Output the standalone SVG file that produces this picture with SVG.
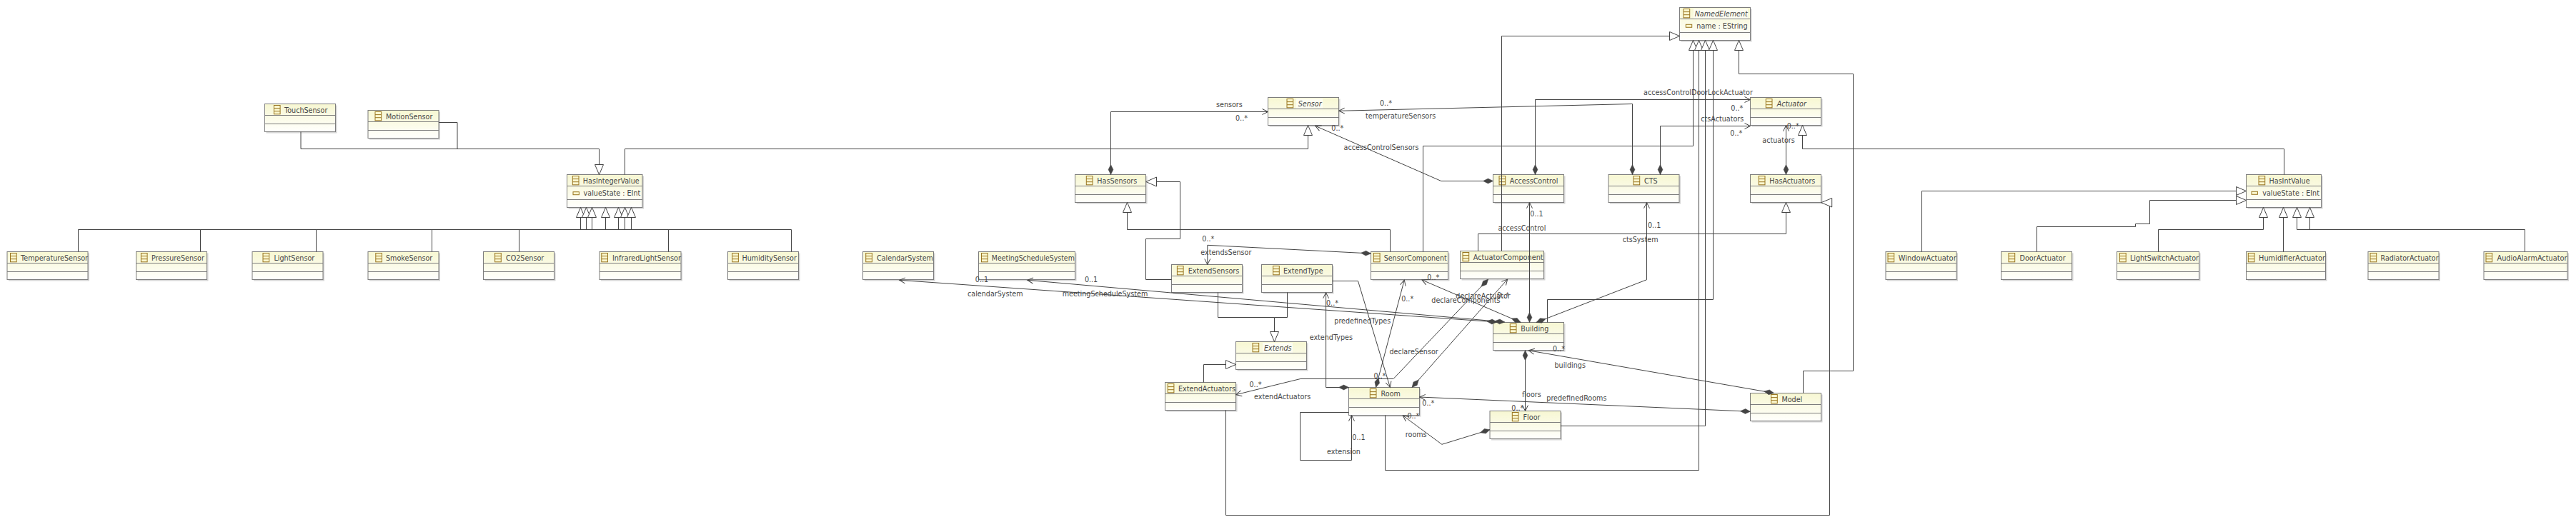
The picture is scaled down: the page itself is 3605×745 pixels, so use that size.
<svg xmlns="http://www.w3.org/2000/svg" width="3605" height="745" viewBox="0 0 3605 745">
<style>
text{font-family:"DejaVu Sans","Liberation Sans",sans-serif;font-size:9.6px;fill:#454545}
.i{font-style:italic}
.s{fill:#d4d4d4}
.b{fill:url(#g);stroke:#7d7d7d;stroke-width:1}
.d{fill:none;stroke:#7d7d7d;stroke-width:1}
.l{fill:none;stroke:#444;stroke-width:1}
.o{marker-end:url(#open)}
.c{marker-start:url(#dia)}
.t{marker-end:url(#tri)}
.a{fill:#fbf8d0;stroke:#9a7620;stroke-width:1}
.w{fill:#fdfdf2}
</style>
<defs>
<linearGradient id="g" x1="0" y1="0" x2="0" y2="1"><stop offset="0" stop-color="#f7f7d2"/><stop offset="1" stop-color="#fffffd"/></linearGradient>
<g id="ic"><rect class="a" width="8.7" height="12.3"/><path class="a" d="M0,4.1H8.7M0,8.2H8.7"/></g>
<marker id="open" markerUnits="userSpaceOnUse" markerWidth="10" markerHeight="10" refX="9" refY="5" orient="auto" overflow="visible"><path d="M1,1L9,5L1,9" fill="none" stroke="#444"/></marker>
<marker id="dia" markerUnits="userSpaceOnUse" markerWidth="16" markerHeight="8" refX="0" refY="4" orient="auto" overflow="visible"><path d="M0,4L7,.6L14,4L7,7.4Z" fill="#444" stroke="#444" stroke-width=".5"/></marker>
<marker id="tri" markerUnits="userSpaceOnUse" markerWidth="16" markerHeight="14" refX="15" refY="7" orient="auto" overflow="visible"><path d="M15,7L1,1V13Z" fill="#fff" stroke="#444"/></marker>
</defs>
<rect width="3605" height="745" fill="#fff"/>
<g id="nodes">
<g id="TouchSensor"><rect class="s" x="372.5" y="147.5" width="99" height="39"/><rect class="b" x="370.5" y="145.5" width="99" height="39"/><path class="d" d="M370.5,161.5h99M370.5,173.5h99"/><use href="#ic" x="383.4" y="147.5"/><text x="398" y="157.5">TouchSensor</text></g>
<g id="MotionSensor"><rect class="s" x="517" y="156.5" width="99" height="39"/><rect class="b" x="515" y="154.5" width="99" height="39"/><path class="d" d="M515,170.5h99M515,182.5h99"/><use href="#ic" x="525" y="156.5"/><text x="540" y="166.5">MotionSensor</text></g>
<g id="HasIntegerValue"><rect class="s" x="795.5" y="246.5" width="105.5" height="46"/><rect class="b" x="793.5" y="244.5" width="105.5" height="46"/><path class="d" d="M793.5,260.5h105.5M793.5,279.5h105.5"/><use href="#ic" x="801.3" y="246.5"/><text x="815.8" y="256.5">HasIntegerValue</text><rect class="a" x="802" y="268.7" width="8.4" height="4"/><text x="816.6" y="274">valueState : EInt</text></g>
<g id="TemperatureSensor"><rect class="s" x="12" y="354.5" width="113" height="39"/><rect class="b" x="10" y="352.5" width="113" height="39"/><path class="d" d="M10,368.5h113M10,380.5h113"/><use href="#ic" x="14.5" y="354.5"/><text x="29" y="364.5" textLength="94" lengthAdjust="spacingAndGlyphs">TemperatureSensor</text></g>
<g id="PressureSensor"><rect class="s" x="192.5" y="354.5" width="99" height="39"/><rect class="b" x="190.5" y="352.5" width="99" height="39"/><path class="d" d="M190.5,368.5h99M190.5,380.5h99"/><use href="#ic" x="197.4" y="354.5"/><text x="212" y="364.5">PressureSensor</text></g>
<g id="LightSensor"><rect class="s" x="355" y="354.5" width="99" height="39"/><rect class="b" x="353" y="352.5" width="99" height="39"/><path class="d" d="M353,368.5h99M353,380.5h99"/><use href="#ic" x="368" y="354.5"/><text x="383.4" y="364.5">LightSensor</text></g>
<g id="SmokeSensor"><rect class="s" x="517" y="354.5" width="99" height="39"/><rect class="b" x="515" y="352.5" width="99" height="39"/><path class="d" d="M515,368.5h99M515,380.5h99"/><use href="#ic" x="525.8" y="354.5"/><text x="540" y="364.5">SmokeSensor</text></g>
<g id="CO2Sensor"><rect class="s" x="678.5" y="354.5" width="99" height="39"/><rect class="b" x="676.5" y="352.5" width="99" height="39"/><path class="d" d="M676.5,368.5h99M676.5,380.5h99"/><use href="#ic" x="692.6" y="354.5"/><text x="708" y="364.5">CO2Sensor</text></g>
<g id="InfraredLightSensor"><rect class="s" x="841" y="354.5" width="114" height="39"/><rect class="b" x="839" y="352.5" width="114" height="39"/><path class="d" d="M839,368.5h114M839,380.5h114"/><use href="#ic" x="841.8" y="354.5"/><text x="857" y="364.5" textLength="96" lengthAdjust="spacingAndGlyphs">InfraredLightSensor</text></g>
<g id="HumiditySensor"><rect class="s" x="1020.5" y="354.5" width="99" height="39"/><rect class="b" x="1018.5" y="352.5" width="99" height="39"/><path class="d" d="M1018.5,368.5h99M1018.5,380.5h99"/><use href="#ic" x="1024.7" y="354.5"/><text x="1038.5" y="364.5">HumiditySensor</text></g>
<g id="CalendarSystem"><rect class="s" x="1209.5" y="354.5" width="99" height="39"/><rect class="b" x="1207.5" y="352.5" width="99" height="39"/><path class="d" d="M1207.5,368.5h99M1207.5,380.5h99"/><use href="#ic" x="1211.7" y="354.5"/><text x="1227" y="364.5">CalendarSystem</text></g>
<g id="MeetingScheduleSystem"><rect class="s" x="1371.5" y="354.5" width="135" height="39"/><rect class="b" x="1369.5" y="352.5" width="135" height="39"/><path class="d" d="M1369.5,368.5h135M1369.5,380.5h135"/><use href="#ic" x="1373.5" y="354.5"/><text x="1387.8" y="364.5" textLength="116" lengthAdjust="spacingAndGlyphs">MeetingScheduleSystem</text></g>
<g id="HasSensors"><rect class="s" x="1506.5" y="246.5" width="99" height="39"/><rect class="b" x="1504.5" y="244.5" width="99" height="39"/><path class="d" d="M1504.5,260.5h99M1504.5,272.5h99"/><use href="#ic" x="1520.3" y="246.5"/><text x="1535.3" y="256.5">HasSensors</text></g>
<g id="Sensor"><rect class="s" x="1776.5" y="138.5" width="99" height="39"/><rect class="b" x="1774.5" y="136.5" width="99" height="39"/><path class="d" d="M1774.5,152.5h99M1774.5,164.5h99"/><rect class="w" x="1814" y="138" width="37" height="14"/><use href="#ic" x="1801" y="138.5"/><text class="i" x="1816.7" y="148.5">Sensor</text></g>
<g id="ExtendSensors"><rect class="s" x="1641.5" y="372.5" width="99" height="39"/><rect class="b" x="1639.5" y="370.5" width="99" height="39"/><path class="d" d="M1639.5,386.5h99M1639.5,398.5h99"/><use href="#ic" x="1647.4" y="372.5"/><text x="1662.8" y="382.5">ExtendSensors</text></g>
<g id="ExtendType"><rect class="s" x="1767.5" y="372.5" width="99" height="39"/><rect class="b" x="1765.5" y="370.5" width="99" height="39"/><path class="d" d="M1765.5,386.5h99M1765.5,398.5h99"/><use href="#ic" x="1781.6" y="372.5"/><text x="1796" y="382.5">ExtendType</text></g>
<g id="Extends"><rect class="s" x="1731.5" y="480.5" width="99" height="39"/><rect class="b" x="1729.5" y="478.5" width="99" height="39"/><path class="d" d="M1729.5,494.5h99M1729.5,506.5h99"/><rect class="w" x="1767" y="480" width="42" height="14"/><use href="#ic" x="1753" y="480.5"/><text class="i" x="1769" y="490.5">Extends</text></g>
<g id="ExtendActuators"><rect class="s" x="1632.5" y="537.5" width="99" height="39"/><rect class="b" x="1630.5" y="535.5" width="99" height="39"/><path class="d" d="M1630.5,551.5h99M1630.5,563.5h99"/><use href="#ic" x="1634.2" y="537.5"/><text x="1649" y="547.5" textLength="80" lengthAdjust="spacingAndGlyphs">ExtendActuators</text></g>
<g id="Room"><rect class="s" x="1889.5" y="544.5" width="99" height="39"/><rect class="b" x="1887.5" y="542.5" width="99" height="39"/><path class="d" d="M1887.5,558.5h99M1887.5,570.5h99"/><use href="#ic" x="1917.3" y="544.5"/><text x="1932.6" y="554.5">Room</text></g>
<g id="SensorComponent"><rect class="s" x="1920.5" y="354.5" width="108" height="39"/><rect class="b" x="1918.5" y="352.5" width="108" height="39"/><path class="d" d="M1918.5,368.5h108M1918.5,380.5h108"/><use href="#ic" x="1922.4" y="354.5"/><text x="1936.7" y="364.5" textLength="88" lengthAdjust="spacingAndGlyphs">SensorComponent</text></g>
<g id="ActuatorComponent"><rect class="s" x="2045.5" y="353.5" width="117" height="39"/><rect class="b" x="2043.5" y="351.5" width="117" height="39"/><path class="d" d="M2043.5,367.5h117M2043.5,379.5h117"/><use href="#ic" x="2047" y="353.5"/><text x="2061.7" y="363.5" textLength="98" lengthAdjust="spacingAndGlyphs">ActuatorComponent</text></g>
<g id="AccessControl"><rect class="s" x="2091.5" y="246.5" width="99" height="39"/><rect class="b" x="2089.5" y="244.5" width="99" height="39"/><path class="d" d="M2089.5,260.5h99M2089.5,272.5h99"/><use href="#ic" x="2098" y="246.5"/><text x="2112.8" y="256.5">AccessControl</text></g>
<g id="CTS"><rect class="s" x="2253" y="246.5" width="99" height="39"/><rect class="b" x="2251" y="244.5" width="99" height="39"/><path class="d" d="M2251,260.5h99M2251,272.5h99"/><use href="#ic" x="2286" y="246.5"/><text x="2301" y="256.5">CTS</text></g>
<g id="NamedElement"><rect class="s" x="2352.5" y="12.5" width="99" height="46"/><rect class="b" x="2350.5" y="10.5" width="99" height="46"/><path class="d" d="M2350.5,26.5h99M2350.5,45.5h99"/><rect class="w" x="2370" y="12" width="76" height="14"/><use href="#ic" x="2356" y="12.5"/><text class="i" x="2371.7" y="22.5">NamedElement</text><rect class="a" x="2359.3" y="34.3" width="8.4" height="4"/><text x="2374.3" y="40">name : EString</text></g>
<g id="Actuator"><rect class="s" x="2451.5" y="138.5" width="99" height="39"/><rect class="b" x="2449.5" y="136.5" width="99" height="39"/><path class="d" d="M2449.5,152.5h99M2449.5,164.5h99"/><use href="#ic" x="2471.3" y="138.5"/><text class="i" x="2486.7" y="148.5">Actuator</text></g>
<g id="HasActuators"><rect class="s" x="2451.5" y="246.5" width="99" height="39"/><rect class="b" x="2449.5" y="244.5" width="99" height="39"/><path class="d" d="M2449.5,260.5h99M2449.5,272.5h99"/><use href="#ic" x="2461.3" y="246.5"/><text x="2476.3" y="256.5">HasActuators</text></g>
<g id="Building"><rect class="s" x="2091.5" y="453.5" width="99" height="39"/><rect class="b" x="2089.5" y="451.5" width="99" height="39"/><path class="d" d="M2089.5,467.5h99M2089.5,479.5h99"/><use href="#ic" x="2113.3" y="453.5"/><text x="2128.3" y="463.5">Building</text></g>
<g id="Floor"><rect class="s" x="2087" y="577.5" width="99" height="39"/><rect class="b" x="2085" y="575.5" width="99" height="39"/><path class="d" d="M2085,591.5h99M2085,603.5h99"/><use href="#ic" x="2116.3" y="577.5"/><text x="2131.6" y="587.5">Floor</text></g>
<g id="Model"><rect class="s" x="2451.5" y="552.5" width="99" height="39"/><rect class="b" x="2449.5" y="550.5" width="99" height="39"/><path class="d" d="M2449.5,566.5h99M2449.5,578.5h99"/><use href="#ic" x="2478.6" y="552.5"/><text x="2493.4" y="562.5">Model</text></g>
<g id="WindowActuator"><rect class="s" x="2641" y="354.5" width="99" height="39"/><rect class="b" x="2639" y="352.5" width="99" height="39"/><path class="d" d="M2639,368.5h99M2639,380.5h99"/><use href="#ic" x="2642" y="354.5"/><text x="2656.7" y="364.5" textLength="81" lengthAdjust="spacingAndGlyphs">WindowActuator</text></g>
<g id="DoorActuator"><rect class="s" x="2802.5" y="354.5" width="99" height="39"/><rect class="b" x="2800.5" y="352.5" width="99" height="39"/><path class="d" d="M2800.5,368.5h99M2800.5,380.5h99"/><use href="#ic" x="2811" y="354.5"/><text x="2826.6" y="364.5">DoorActuator</text></g>
<g id="LightSwitchActuator"><rect class="s" x="2964.5" y="354.5" width="115" height="39"/><rect class="b" x="2962.5" y="352.5" width="115" height="39"/><path class="d" d="M2962.5,368.5h115M2962.5,380.5h115"/><use href="#ic" x="2966.5" y="354.5"/><text x="2981" y="364.5" textLength="96" lengthAdjust="spacingAndGlyphs">LightSwitchActuator</text></g>
<g id="HumidifierActuator"><rect class="s" x="3145.5" y="354.5" width="111" height="39"/><rect class="b" x="3143.5" y="352.5" width="111" height="39"/><path class="d" d="M3143.5,368.5h111M3143.5,380.5h111"/><use href="#ic" x="3146.3" y="354.5"/><text x="3161" y="364.5" textLength="93" lengthAdjust="spacingAndGlyphs">HumidifierActuator</text></g>
<g id="RadiatorActuator"><rect class="s" x="3316" y="354.5" width="99" height="39"/><rect class="b" x="3314" y="352.5" width="99" height="39"/><path class="d" d="M3314,368.5h99M3314,380.5h99"/><use href="#ic" x="3317" y="354.5"/><text x="3331.6" y="364.5" textLength="81" lengthAdjust="spacingAndGlyphs">RadiatorActuator</text></g>
<g id="AudioAlarmActuator"><rect class="s" x="3478" y="354.5" width="117" height="39"/><rect class="b" x="3476" y="352.5" width="117" height="39"/><path class="d" d="M3476,368.5h117M3476,380.5h117"/><use href="#ic" x="3479" y="354.5"/><text x="3494.5" y="364.5" textLength="98" lengthAdjust="spacingAndGlyphs">AudioAlarmActuator</text></g>
<g id="HasIntValue"><rect class="s" x="3145.5" y="246.5" width="105" height="46"/><rect class="b" x="3143.5" y="244.5" width="105" height="46"/><path class="d" d="M3143.5,260.5h105M3143.5,279.5h105"/><use href="#ic" x="3161" y="246.5"/><text x="3175.5" y="256.5">HasIntValue</text><rect class="a" x="3151" y="268.3" width="8.4" height="4"/><text x="3166.3" y="273.7">valueState : EInt</text></g>
</g>
<g id="connectors">
<path class="l t" d="M421,184.5V208.5H838.5V244.5"/>
<path class="l" d="M614,171.5H640V208.5"/>
<path class="l t" d="M874.5,244.5V208.5H1830.5V175.5"/>
<path class="l" d="M109.5,352.5V321.5H1107.5V352.5M280.5,321.5V352.5M442.5,321.5V352.5M604.5,321.5V352.5M726.5,321.5V352.5M935.5,321.5V352.5"/>
<path class="l t" d="M812.5,321.5V290.5"/><path class="l t" d="M820.5,321.5V290.5"/><path class="l t" d="M828.5,321.5V290.5"/><path class="l t" d="M847.5,321.5V290.5"/><path class="l t" d="M865.5,321.5V290.5"/><path class="l t" d="M874.5,321.5V290.5"/><path class="l t" d="M883.5,321.5V290.5"/>
<path class="l t" d="M3196.5,244.5V208.5H2522.5V175.5"/>
<path class="l t" d="M2689.5,352.5V267.5H3143.5"/>
<path class="l t" d="M2850.5,352.5V317.5H2988.5V313.5H3008.5V280.5H3143.5"/>
<path class="l t" d="M3020.5,352.5V321.5H3167.5V290.5"/>
<path class="l t" d="M3195.5,352.5V290.5"/>
<path class="l t" d="M3533.5,352.5V321.5H3214.5V290.5"/>
<path class="l t" d="M3362.5,321.5H3232.5V290.5"/>
<path class="l t" d="M2068.5,351.5V327.5H2499.5V283.5"/>
<path class="l" d="M1715.5,574.5V721.5H2560.5V289"/>
<path d="M2548.7,283.7L2563.7,277.5V290Z" fill="#fff" stroke="#444"/>
<path class="l t" d="M2523.5,550.5V519.5H2593.5V103.5H2433.5V56.5"/>
<path class="l t" d="M2101.5,351.5V50.5H2350.5"/>
<path class="l t" d="M1991.5,352.5V204.5H2369.5V56.5"/>
<path class="l t" d="M1938.5,581.5V658.5H2377.5V56.5"/>
<path class="l t" d="M2184,596.5H2386.5V56.5"/>
<path class="l t" d="M2165.5,451.5V419.5H2397.5V56.5"/>
<path class="l" d="M1618,254.5H1651.5V334.5H1603.5V391.5H1639.5"/>
<path d="M1603.7,254.5L1618.5,248V261Z" fill="#fff" stroke="#444"/>
<path class="l t" d="M1945.5,352.5V321.5H1577.5V283.5"/>
<path class="l t" d="M1704.5,409.5V444.5H1783.5V478.5"/>
<path class="l" d="M1801.5,409.5V444.5H1783.5"/>
<path class="l t" d="M1684.5,535.5V510.5H1729.5"/>
<path class="l c o" d="M1554.5,244.5V156.5H1774.5"/>
<path class="l c o" d="M2284.5,244.5V145.5L1873.7,155.3"/>
<path class="l c o" d="M2148.5,244.5V139.5H2449.5"/>
<path class="l c o" d="M2323.5,244.5V176.5H2449.5"/>
<path class="l c o" d="M2499.5,244.5V175.7"/>
<path class="l c o" d="M2089.5,253.5H2016.8L1840.7,176.3"/>
<path class="l c o" d="M1918.5,355L1689.8,343.3V370.5"/>
<path class="l c o" d="M2095,451L1258.7,392.3"/>
<path class="l c o" d="M2105.7,451L1437.8,392.3"/>
<path class="l o" d="M1864.5,393.5H1900.5L1945.4,542.5"/>
<path class="l c o" d="M1887.5,542.5H1855.6V409.8"/>
<path class="l c o" d="M2082.7,391L1950,530.5H1819.9L1729.6,552.7"/>
<path class="l c o" d="M1925.5,542.5L1965.3,392"/>
<path class="l c o" d="M1976,542.5L2109.7,391"/>
<path class="l c o" d="M2128.3,451.5L1990,392"/>
<path class="l c o" d="M2140.5,451.5V283.7"/>
<path class="l c o" d="M2150,451.5L2304.5,391.7V283.7"/>
<path class="l c o" d="M2134.5,490.7V575.5"/>
<path class="l c o" d="M2482.6,550.5L2139.3,490.8"/>
<path class="l c o" d="M2449.5,576.3L1986.7,556"/>
<path class="l c o" d="M2085,601.7L2017.9,622.3L1963.3,582"/>
<path class="l o" d="M1887.5,577.5H1819.5V644.5H1891.5V581.7"/>
</g>
<g id="labels">
<text x="1702" y="150">sensors</text><text x="1729" y="169">0..*</text>
<text x="1911" y="165.7">temperatureSensors</text><text x="1931" y="147.7">0..*</text>
<text x="2300" y="132.7">accessControlDoorLockActuator</text><text x="2422.3" y="155">0..*</text>
<text x="2380.3" y="170">ctsActuators</text><text x="2421.3" y="190">0..*</text>
<text x="2466.3" y="200">actuators</text><text x="2500.7" y="180">0..*</text>
<text x="1880.6" y="210">accessControlSensors</text><text x="1863.3" y="183.3">0..*</text>
<text x="1680.3" y="356.7">extendsSensor</text><text x="1682.3" y="337.7">0..*</text>
<text x="1354" y="415">calendarSystem</text><text x="1364.8" y="394.7">0..1</text>
<text x="1486.7" y="415">meetingScheduleSystem</text><text x="1517.9" y="394.7">0..1</text>
<text x="1867.3" y="452.7">predefinedTypes</text><text x="1922.4" y="530">0..*</text>
<text x="1832.7" y="475.7">extendTypes</text><text x="1856" y="428.3">0..*</text>
<text x="1755" y="558.7">extendActuators</text><text x="1748.5" y="542.3">0..*</text>
<text x="1944.4" y="495.7">declareSensor</text><text x="1961.2" y="421.7">0..*</text>
<text x="2037.3" y="418.3">declareActuator</text><text x="2095" y="417">0..*</text>
<text x="2003.3" y="424">declareComponents</text><text x="1997.3" y="392">0..*</text>
<text x="2096.4" y="323.3">accessControl</text><text x="2141.3" y="302.7">0..1</text>
<text x="2270.7" y="338.7">ctsSystem</text><text x="2306" y="319">0..1</text>
<text x="2130" y="555.7">floors</text><text x="2115.3" y="575">0..*</text>
<text x="2175.5" y="514.7">buildings</text><text x="2173" y="492.3">0..*</text>
<text x="2164.3" y="561">predefinedRooms</text><text x="1990.3" y="568">0..*</text>
<text x="1966.8" y="612">rooms</text><text x="1969.4" y="585.7">0..*</text>
<text x="1857.1" y="636">extension</text><text x="1892.3" y="616">0..1</text>
</g>
</svg>
